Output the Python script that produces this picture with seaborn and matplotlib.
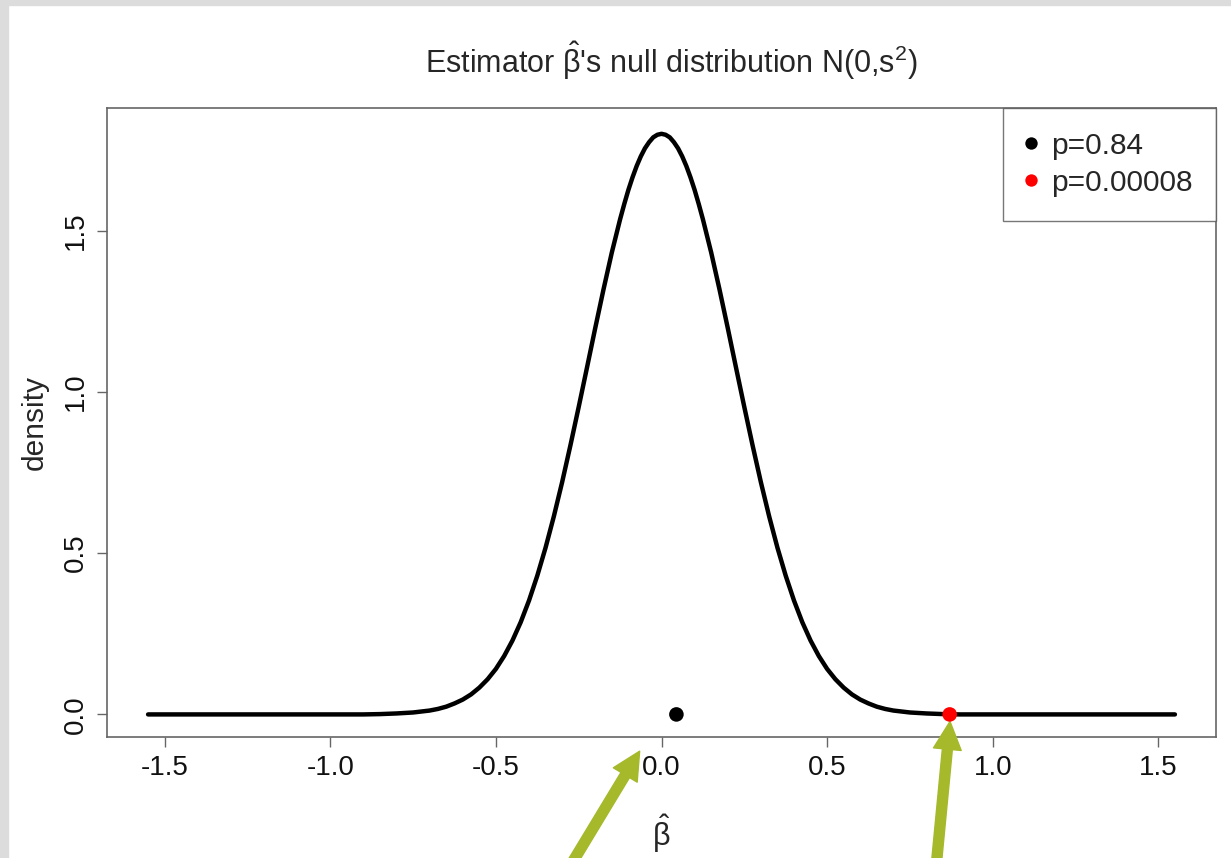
import numpy as np
import pandas as pd
import matplotlib
matplotlib.use("Agg")
import matplotlib.pyplot as plt
from matplotlib.patches import Rectangle
import seaborn as sns

# Null density curve values
beta_grid = [-1.55, -1.4, -1.2, -1.0, -0.9, -0.85, -0.8, -0.75, -0.7, -0.675, -0.65, -0.625,
             -0.6, -0.575, -0.55, -0.525, -0.5, -0.475, -0.45, -0.425, -0.4, -0.375, -0.35,
             -0.325, -0.3, -0.275, -0.25, -0.225, -0.2, -0.175, -0.15, -0.125, -0.1125, -0.1,
             -0.0875, -0.075, -0.0625, -0.05, -0.0375, -0.025, -0.0125, 0.0,
             0.0125, 0.025, 0.0375, 0.05, 0.0625, 0.075, 0.0875, 0.1, 0.1125, 0.125, 0.15,
             0.175, 0.2, 0.225, 0.25, 0.275, 0.3, 0.325, 0.35, 0.375, 0.4, 0.425, 0.45, 0.475,
             0.5, 0.525, 0.55, 0.575, 0.6, 0.625, 0.65, 0.675, 0.7, 0.75, 0.8, 0.85, 0.9, 1.0,
             1.2, 1.4, 1.55]
density = [0.0, 0.0, 0.0, 0.0, 0.0, 0.001, 0.003, 0.006, 0.012, 0.017, 0.024, 0.034,
           0.046, 0.062, 0.083, 0.109, 0.141, 0.181, 0.229, 0.286, 0.353, 0.430, 0.517,
           0.614, 0.720, 0.834, 0.953, 1.075, 1.198, 1.318, 1.432, 1.535, 1.582, 1.626,
           1.665, 1.700, 1.730, 1.755, 1.774, 1.789, 1.797, 1.800,
           1.797, 1.789, 1.774, 1.755, 1.730, 1.700, 1.665, 1.626, 1.582, 1.535, 1.432,
           1.318, 1.198, 1.075, 0.953, 0.834, 0.720, 0.614, 0.517, 0.430, 0.353, 0.286, 0.229, 0.181,
           0.141, 0.109, 0.083, 0.062, 0.046, 0.034, 0.024, 0.017, 0.012, 0.006, 0.003, 0.001, 0.0, 0.0,
           0.0, 0.0, 0.0]

# observed estimates
obs_beta = [0.045, 0.87]
obs_y = [0.0, 0.0]
obs_label = ["p=0.84", "p=0.00008"]
obs_color = ["black", "red"]

x_ticks = [-1.5, -1.0, -0.5, 0.0, 0.5, 1.0, 1.5]
y_ticks = [0.0, 0.5, 1.0, 1.5]

sns.set_theme(style="white")
plt.rcParams["font.family"] = ["Liberation Sans", "DejaVu Sans"]
plt.rcParams["mathtext.fontset"] = "custom"
plt.rcParams["mathtext.rm"] = "Liberation Sans"
plt.rcParams["mathtext.it"] = "Liberation Sans"

fig = plt.figure(figsize=(12.31, 8.58), dpi=100)
fig.patch.set_facecolor("white")
# grey frame strips at the left and top edge
fig.patches.append(Rectangle((0, 0), 8 / 1231, 1, transform=fig.transFigure,
                             color="#dcdcdc", zorder=0))
fig.patches.append(Rectangle((0, 1 - 5 / 858), 1, 5 / 858, transform=fig.transFigure,
                             color="#dcdcdc", zorder=0))

ax = fig.add_axes([107 / 1231, 121 / 858, 1109 / 1231, 629 / 858])

curve = pd.DataFrame({"beta": beta_grid, "density": density})
sns.lineplot(data=curve, x="beta", y="density", color="black", lw=3.2, ax=ax)

pts = pd.DataFrame({"beta": obs_beta, "y": obs_y, "lab": obs_label})
sns.scatterplot(data=pts, x="beta", y="y", hue="lab", palette=obs_color, s=110,
                edgecolor="none", zorder=5, ax=ax)

ax.set_xlim(-1.674, 1.674)
ax.set_ylim(-0.07, 1.88)
ax.set_xticks(x_ticks)
ax.set_xticklabels(["-1.5", "-1.0", "-0.5", "0.0", "0.5", "1.0", "1.5"])
ax.set_yticks(y_ticks)
ax.set_yticklabels(["0.0", "0.5", "1.0", "1.5"], rotation=90, va="center")
ax.tick_params(axis="both", direction="out", length=7, width=1, color="#666666",
               labelsize=20, labelcolor="#111111", bottom=True, left=True, pad=6)
for sp in ax.spines.values():
    sp.set_color("#666666")
    sp.set_linewidth(1.2)

ax.set_xlabel(r"$\hat{\mathrm{\beta}}$", fontsize=22, labelpad=23)
ax.set_ylabel("density", fontsize=21.5, labelpad=10)
ax.set_title(r"Estimator $\hat{\mathrm{\beta}}$'s null distribution N(0,s$^2$)",
             fontsize=22, pad=25, x=0.509)

leg = ax.legend(loc="upper right", borderaxespad=0, fancybox=False, frameon=True,
                fontsize=21.5, markerscale=0.85, handletextpad=0.5, borderpad=0.8,
                labelspacing=0.3, handlelength=0.3, title=None)
leg.get_frame().set_edgecolor("#555555")
leg.get_frame().set_linewidth(1.0)

# green arrows pointing at the two estimates
arrow_col = "#a5b92b"
style = "simple,head_length=1.0,head_width=1.0,tail_width=0.36"
ax.annotate("", xy=(-0.066, -0.114), xycoords="data", xytext=(569, -10),
            textcoords="figure pixels", annotation_clip=False,
            arrowprops=dict(arrowstyle=style, color=arrow_col, mutation_scale=20,
                            shrinkA=0, shrinkB=0))
ax.annotate("", xy=(0.871, -0.022), xycoords="data", xytext=(936, -10),
            textcoords="figure pixels", annotation_clip=False,
            arrowprops=dict(arrowstyle=style, color=arrow_col, mutation_scale=20,
                            shrinkA=0, shrinkB=0))

fig.savefig("out.png", dpi=100)
